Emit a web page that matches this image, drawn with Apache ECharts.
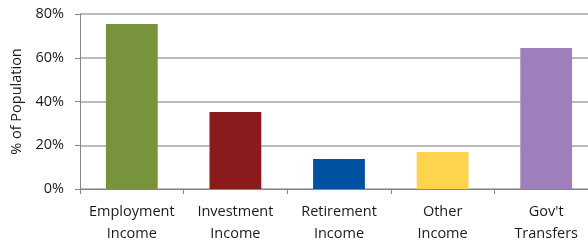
<!DOCTYPE html>
<html><head><meta charset="utf-8">
<script src="https://cdn.jsdelivr.net/npm/echarts@6/dist/echarts.min.js"></script>
<style>html,body{margin:0;padding:0;background:#fff}#c{width:588px;height:241px}</style>
</head><body><div id="c"></div>
<script>
const categories = ["Employment\nIncome", "Investment\nIncome", "Retirement\nIncome", "Other\nIncome", "Gov't\nTransfers"];
const values = [75.4, 35.2, 13.7, 16.9, 64.5];
const barColors = ["#77933c", "#8b1a1c", "#0051a2", "#fed44f", "#9e7fbb"];
const yTicks = [0, 20, 40, 60, 80];

const chart = echarts.init(document.getElementById('c'), null, {renderer: 'canvas'});
const font = "'Open Sans', sans-serif";
chart.setOption({
  animation: false,
  grid: {left: 80, top: 14, bottom: 52, right: -10, containLabel: false, outerBoundsMode: 'none'},
  xAxis: {
    type: 'category', data: categories,
    axisLine: {lineStyle: {color: '#868686', width: 1}},
    axisTick: {show: true, length: 5, lineStyle: {color: '#868686'}},
    axisLabel: {color: '#1a1a1a', fontSize: 14.5, fontFamily: font, lineHeight: 22, margin: 12, interval: 0}
  },
  yAxis: {
    type: 'value', min: yTicks[0], max: yTicks[yTicks.length - 1], interval: 20,
    name: '% of Population', nameLocation: 'middle', nameGap: 54,
    nameTextStyle: {color: '#1a1a1a', fontSize: 14.5, fontFamily: font},
    axisLine: {show: true, lineStyle: {color: '#868686'}},
    axisTick: {show: true, length: 5, lineStyle: {color: '#868686'}},
    axisLabel: {color: '#1a1a1a', fontSize: 14.5, fontFamily: font, formatter: '{value}%', margin: 16},
    splitLine: {lineStyle: {color: '#a6a6a6', width: 1.5}}
  },
  series: [{
    type: 'bar', barWidth: '50%',
    data: values.map((v, i) => ({value: v, itemStyle: {color: barColors[i]}}))
  }]
});
</script></body></html>
